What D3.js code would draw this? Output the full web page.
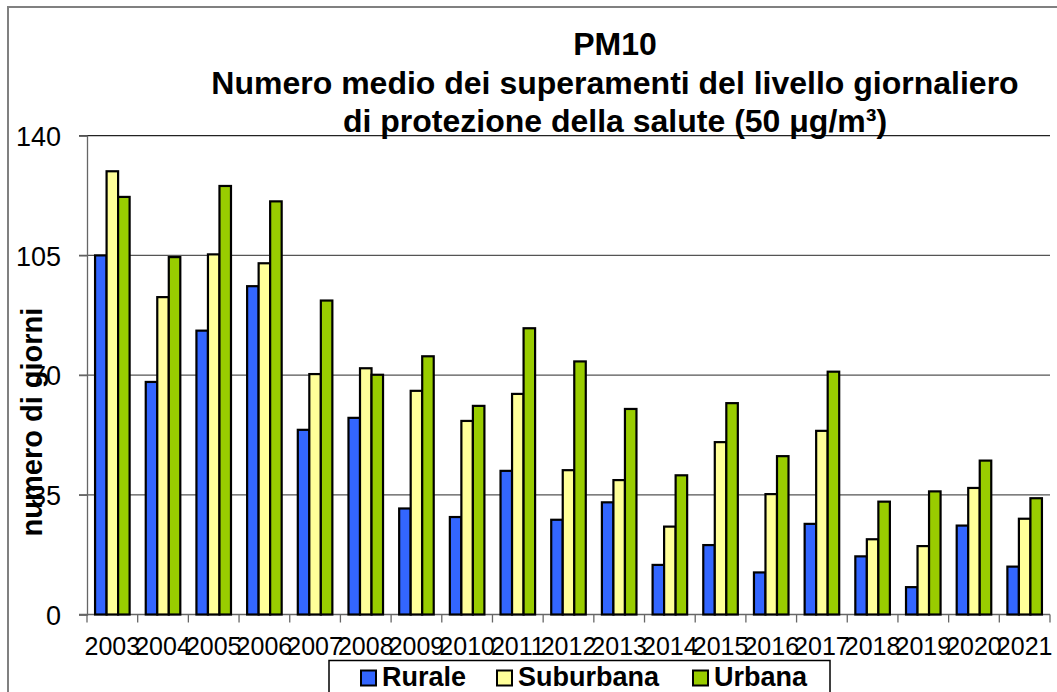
<!DOCTYPE html>
<html>
<head>
<meta charset="utf-8">
<script src="https://cdn.jsdelivr.net/npm/d3@7"></script>
<style>
  html, body { margin: 0; padding: 0; background: #fff; }
  svg { display: block; }
  text { font-family: "Liberation Sans", Arial, sans-serif; fill: #000; }
</style>
</head>
<body>
<svg id="chart" width="1057" height="692"></svg>
<script>
const years = ["2003","2004","2005","2006","2007","2008","2009","2010","2011","2012",
               "2013","2014","2015","2016","2017","2018","2019","2020","2021"];
const seriesNames = ["Rurale","Suburbana","Urbana"];
const rurale    = [105, 68, 83, 96, 54, 57.5, 31, 28.5, 42, 27.7, 32.8, 14.5, 20.3, 12.3, 26.5, 17, 8, 26, 14];
const suburbana = [129.6, 92.8, 105.3, 102.7, 70.3, 72, 65.4, 56.6, 64.5, 42.2, 39.3, 25.7, 50.4, 35.2, 53.7, 22, 20, 37, 28];
const urbana    = [122.1, 104.5, 125.3, 120.8, 91.8, 70.1, 75.5, 61, 83.7, 74, 60.1, 40.7, 61.8, 46.3, 71, 33, 36, 45, 34];
const yTicks = [0, 35, 70, 105, 140];
const colors = ["#3366FF", "#FFFF99", "#99CC00"];
const titleLines = ["PM10", "Numero medio dei superamenti del livello giornaliero", "di protezione della salute (50 \u03BCg/m\u00B3)"];
const yTitle = "numero di giorni";

const seriesValues = [rurale, suburbana, urbana];
const svg = d3.select("#chart");

const pLeft = 87, pRight = 1050, pTop = 135.7, pBottom = 614.5;

// outer frame
svg.append("rect").attr("x", 8).attr("y", 7).attr("width", 1070).attr("height", 720)
  .attr("fill", "none").attr("stroke", "#808080").attr("stroke-width", 2);

const x0 = d3.scaleBand().domain(years).range([pLeft, pRight]).paddingInner(0).paddingOuter(0);
const x1 = d3.scaleBand().domain(seriesNames).range([0, x0.bandwidth()]).paddingInner(0).paddingOuter(0.7);
const y = d3.scaleLinear().domain([0, 140]).range([pBottom, pTop]);

// gridlines
svg.append("g").selectAll("line").data(yTicks.filter(d => d > 0)).join("line")
  .attr("x1", pLeft - 8).attr("x2", pRight)
  .attr("y1", d => y(d)).attr("y2", d => y(d))
  .attr("stroke", d => d === 140 ? "#222" : "#555").attr("stroke-width", 1.3);

// y axis
const yAxis = d3.axisLeft(y).tickValues(yTicks).tickSize(8).tickPadding(18).tickFormat(d3.format("d"));
const gy = svg.append("g").attr("transform", `translate(${pLeft},0)`).call(yAxis);
gy.select(".domain").attr("stroke", "#666").attr("stroke-width", 1.3);
gy.selectAll(".tick line").attr("stroke", "#666").attr("stroke-width", 1.3);
gy.selectAll(".tick text").attr("font-size", 27).attr("font-family", "Liberation Sans, Arial, sans-serif")
  .attr("fill", "#000").attr("x", -26).attr("dy", "0.36em");

// x axis
const gx = svg.append("g").attr("transform", `translate(0,${pBottom})`)
  .call(d3.axisBottom(x0).tickSize(0).tickPadding(28));
gx.select(".domain").attr("stroke", "#666").attr("stroke-width", 1.3).attr("d", `M${pLeft - 8},0H${pRight}`);
gx.selectAll(".tick text").attr("font-size", 25).attr("font-family", "Liberation Sans, Arial, sans-serif")
  .attr("fill", "#000").attr("dy", "0.71em").attr("y", 23);
// category boundary ticks
svg.append("g").selectAll("line").data(years.concat(["end"])).join("line")
  .attr("x1", d => d === "end" ? pRight : x0(d)).attr("x2", d => d === "end" ? pRight : x0(d))
  .attr("y1", pBottom).attr("y2", pBottom + 8)
  .attr("stroke", "#666").attr("stroke-width", 1.3);

// bars
const groups = svg.append("g").selectAll("g").data(years).join("g")
  .attr("transform", d => `translate(${x0(d)},0)`);
groups.selectAll("rect").data((d, i) => seriesNames.map((s, k) => ({ s, k, v: seriesValues[k][i] })))
  .join("rect")
  .attr("x", d => x1(d.s)).attr("width", x1.bandwidth())
  .attr("y", d => y(d.v)).attr("height", d => y(0) - y(d.v))
  .attr("fill", d => colors[d.k]).attr("stroke", "#000").attr("stroke-width", 2.2);

// title
const cx = 615;
svg.append("g").selectAll("text").data(titleLines).join("text")
  .attr("x", cx).attr("y", (d, i) => 55 + i * 38.5)
  .attr("text-anchor", "middle").attr("font-weight", "bold").attr("font-size", 32)
  .text(d => d);

// y title
svg.append("text")
  .attr("transform", "translate(42,422) rotate(-90)")
  .attr("text-anchor", "middle").attr("font-weight", "bold").attr("font-size", 29)
  .text(yTitle);

// legend
const lg = svg.append("g");
lg.append("rect").attr("x", 329).attr("y", 660.5).attr("width", 501).attr("height", 50)
  .attr("fill", "#fff").attr("stroke", "#000").attr("stroke-width", 1.5);
const legendX = [361, 497, 693];
const items = lg.selectAll("g").data(seriesNames).join("g")
  .attr("transform", (d, i) => `translate(${legendX[i]},670.5)`);
items.append("rect").attr("width", 15).attr("height", 15)
  .attr("fill", (d, i) => colors[i]).attr("stroke", "#000").attr("stroke-width", 2);
items.append("text").attr("x", 21).attr("y", 15.5)
  .attr("font-weight", "bold").attr("font-size", 27).text(d => d);
</script>
</body>
</html>
